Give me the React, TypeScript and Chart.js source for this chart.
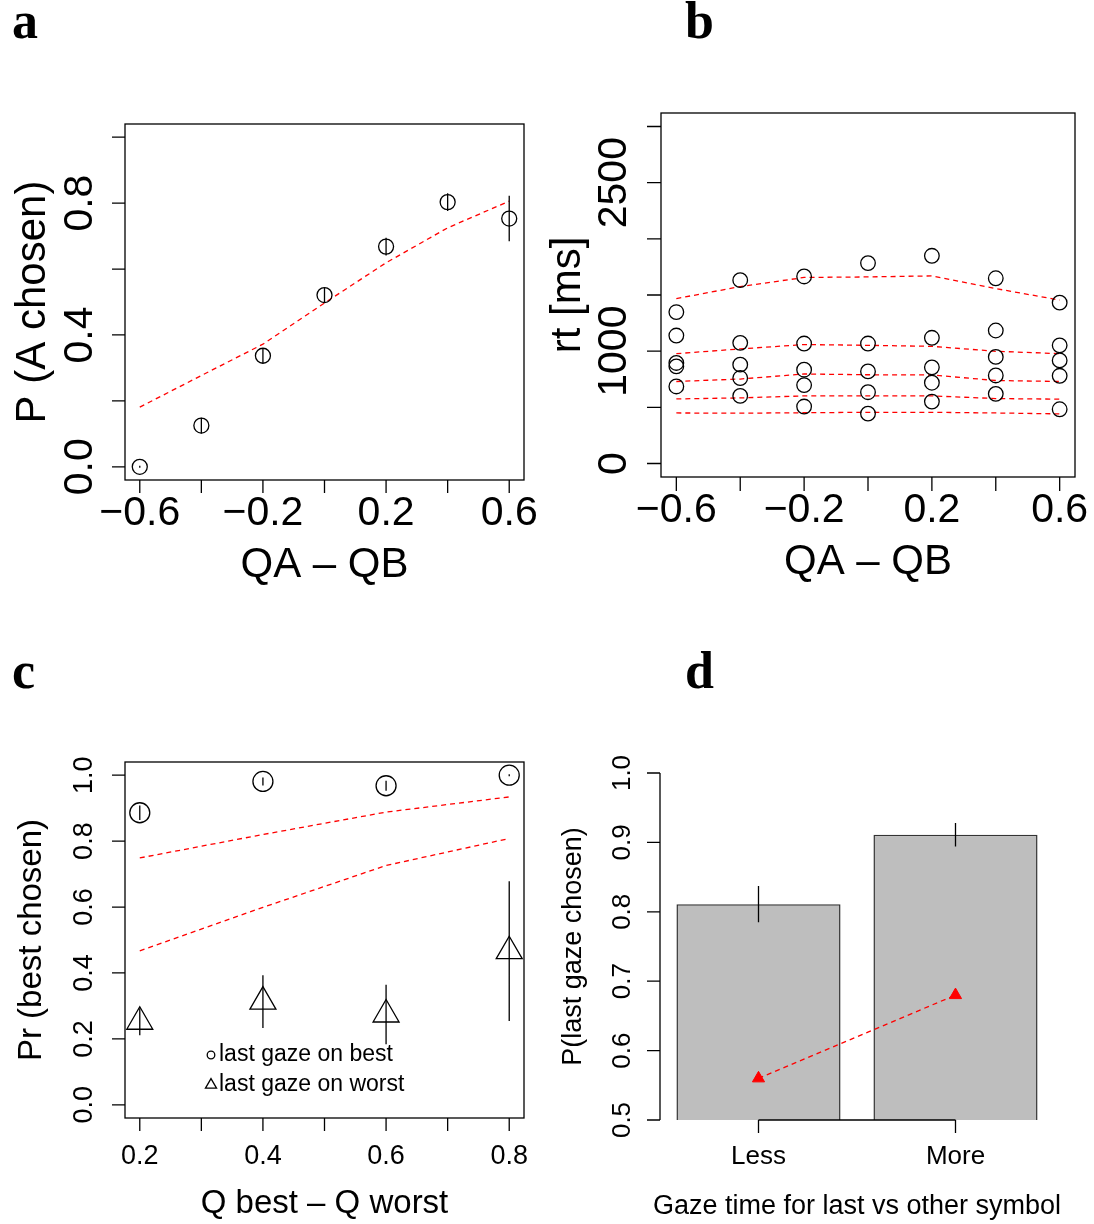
import React, { useEffect, useRef } from "react";
import { Chart, registerables } from "chart.js";

Chart.register(...registerables);

const PAGE_W = 1094;
const PAGE_H = 1224;
const SANS = "'Liberation Sans', Arial, Helvetica, sans-serif";
const SERIF = "'Liberation Serif', 'Times New Roman', serif";
const RED = "#FF0000";
const LW = 1.3;

// ---------- Panel a : P(A chosen) vs QA - QB ----------
const qDiff = [-0.6, -0.4, -0.2, 0, 0.2, 0.4, 0.6];
const pAObserved = [0.0, 0.125, 0.337, 0.521, 0.668, 0.803, 0.753];
const pAError = [0.003, 0.024, 0.023, 0.022, 0.027, 0.027, 0.069];
const pAModel = [0.181, 0.277, 0.372, 0.497, 0.619, 0.725, 0.806];
const aYTicks = [0, 0.2, 0.4, 0.6, 0.8, 1.0];
const aYLabels = ["0.0", "", "0.4", "", "0.8", ""];
const qDiffLabels = ["\u22120.6", "", "\u22120.2", "", "0.2", "", "0.6"];

// ---------- Panel b : RT quantiles vs QA - QB ----------
const rtObs1 = [686, 602, 507, 444, 551, 620, 483];
const rtObs2 = [865, 761, 698, 635, 719, 784, 781];
const rtObs3 = [895, 880, 835, 820, 856, 949, 918];
const rtObs4 = [1139, 1074, 1068, 1068, 1119, 1184, 1052];
const rtObs5 = [1348, 1632, 1665, 1784, 1849, 1649, 1432];
const rtModel1 = [450, 448, 452, 456, 456, 450, 442];
const rtModel2 = [575, 584, 602, 602, 602, 578, 573];
const rtModel3 = [730, 752, 797, 790, 788, 739, 730];
const rtModel4 = [978, 1020, 1059, 1052, 1043, 999, 978];
const rtModel5 = [1468, 1575, 1656, 1661, 1670, 1557, 1455];
const bYTicks = [0, 500, 1000, 1500, 2000, 2500, 3000];
const bYLabels = ["0", "", "1000", "", "", "2500", ""];

// ---------- Panel c : Pr(best chosen) vs Q best - Q worst ----------
const qGap = [0.2, 0.4, 0.6, 0.8];
const bestObserved = [0.886, 0.981, 0.968, 1.0];
const bestError = [0.022, 0.012, 0.015, 0.003];
const worstObserved = [0.252, 0.313, 0.274, 0.466];
const worstError = [0.041, 0.08, 0.09, 0.212];
const bestModel = [0.749, 0.82, 0.888, 0.934];
const worstModel = [0.467, 0.599, 0.726, 0.808];
const cXTicks = [0.2, 0.3, 0.4, 0.5, 0.6, 0.7, 0.8];
const cXLabels = ["0.2", "", "0.4", "", "0.6", "", "0.8"];
const cYTicks = [0, 0.2, 0.4, 0.6, 0.8, 1.0];
const cYLabels = ["0.0", "0.2", "0.4", "0.6", "0.8", "1.0"];
const cLegend = ["last gaze on best", "last gaze on worst"];

// ---------- Panel d : P(last gaze chosen) bars ----------
const gazeGroups = ["Less", "More"];
const lastChosen = [0.811, 0.911];
const lastChosenError = [0.026, 0.017];
const lastChosenModel = [0.56, 0.68];
const dYTicks = [0.5, 0.6, 0.7, 0.8, 0.9, 1.0];
const dYLabels = ["0.5", "0.6", "0.7", "0.8", "0.9", "1.0"];

type ErrSpec = { x: number[]; y: number[]; e: number[] };
type Spec = {
  id: string;
  box: boolean;
  axisLines: boolean;
  xTicks: number[];
  xLabels: string[];
  yTicks: number[];
  yLabels: string[];
  tickLen: number;
  tickFont: string;
  xLabelY: number;
  yLabelX: number;
  xTitle: string;
  xTitleY: number;
  yTitle: string;
  yTitleX: number;
  titleFont: string;
  letter: string;
  letterX: number;
  letterY: number;
  errs: ErrSpec[];
  extra?: (chart: any) => void;
};

function rotText(ctx: CanvasRenderingContext2D, t: string, x: number, y: number) {
  ctx.save();
  ctx.translate(x, y);
  ctx.rotate(-Math.PI / 2);
  ctx.fillText(t, 0, 0);
  ctx.restore();
}

function makePlugin(s: Spec) {
  return {
    id: "rstyle" + s.id,
    afterDatasetsDraw(chart: any) {
      const ctx = chart.ctx as CanvasRenderingContext2D;
      const xs = chart.scales.x;
      const ys = chart.scales.y;
      ctx.save();
      ctx.strokeStyle = "#000";
      ctx.lineWidth = LW;
      ctx.beginPath();
      s.errs.forEach((es) => {
        es.x.forEach((xv, i) => {
          const px = xs.getPixelForValue(xv);
          ctx.moveTo(px, ys.getPixelForValue(es.y[i] - es.e[i]));
          ctx.lineTo(px, ys.getPixelForValue(es.y[i] + es.e[i]));
        });
      });
      ctx.stroke();
      ctx.restore();
    },
    afterDraw(chart: any) {
      const ctx = chart.ctx as CanvasRenderingContext2D;
      const { left, right, top, bottom } = chart.chartArea;
      const xs = chart.scales.x;
      const ys = chart.scales.y;
      ctx.save();
      ctx.strokeStyle = "#000";
      ctx.fillStyle = "#000";
      ctx.lineWidth = LW;
      if (s.box) ctx.strokeRect(left, top, right - left, bottom - top);
      const yp = s.yTicks.map((v) => ys.getPixelForValue(v));
      const xp = s.xTicks.map((v) => xs.getPixelForValue(v));
      ctx.beginPath();
      if (s.axisLines) {
        ctx.moveTo(left, yp[0]);
        ctx.lineTo(left, yp[yp.length - 1]);
        ctx.moveTo(xp[0], bottom);
        ctx.lineTo(xp[xp.length - 1], bottom);
      }
      yp.forEach((p) => {
        ctx.moveTo(left, p);
        ctx.lineTo(left - s.tickLen, p);
      });
      xp.forEach((p) => {
        ctx.moveTo(p, bottom);
        ctx.lineTo(p, bottom + s.tickLen);
      });
      ctx.stroke();
      ctx.font = s.tickFont;
      ctx.textAlign = "center";
      ctx.textBaseline = "middle";
      s.xLabels.forEach((t, i) => {
        if (t) ctx.fillText(t, xp[i], s.xLabelY);
      });
      s.yLabels.forEach((t, i) => {
        if (t) rotText(ctx, t, s.yLabelX, yp[i]);
      });
      ctx.font = s.titleFont;
      ctx.fillText(s.xTitle, (left + right) / 2, s.xTitleY);
      rotText(ctx, s.yTitle, s.yTitleX, (top + bottom) / 2);
      ctx.font = "bold 52px " + SERIF;
      ctx.textAlign = "left";
      ctx.textBaseline = "alphabetic";
      ctx.fillText(s.letter, s.letterX, s.letterY);
      if (s.extra) s.extra(chart);
      ctx.restore();
    },
  };
}

function padFor(L: number, T: number, R: number, B: number) {
  return { left: L, top: T, right: PAGE_W - R, bottom: PAGE_H - B };
}

const baseOptions = (pad: any, scales: any) => ({
  responsive: false,
  animation: false as const,
  events: [] as any[],
  layout: { padding: pad },
  plugins: { legend: { display: false }, tooltip: { enabled: false } },
  scales,
});

function pts(xs: number[], ys: number[]) {
  return xs.map((x, i) => ({ x, y: ys[i] }));
}

function modelLine(data: any[]) {
  return {
    type: "line",
    data,
    showLine: true,
    borderColor: RED,
    borderWidth: LW,
    borderDash: [5, 4],
    pointRadius: 0,
    tension: 0,
    fill: false,
  };
}

function openPoints(data: any[], style: string, r: number) {
  return {
    type: "scatter",
    data,
    showLine: false,
    pointStyle: style,
    pointRadius: r,
    pointBorderColor: "#000",
    pointBackgroundColor: "rgba(0,0,0,0)",
    pointBorderWidth: LW,
  };
}

export default function App() {
  const ra = useRef<HTMLCanvasElement>(null);
  const rb = useRef<HTMLCanvasElement>(null);
  const rc = useRef<HTMLCanvasElement>(null);
  const rd = useRef<HTMLCanvasElement>(null);

  useEffect(() => {
    const charts: Chart[] = [];
    const bigTick = "41px " + SANS;
    const bigTitle = "42px " + SANS;

    // Panel a
    charts.push(
      new Chart(ra.current as HTMLCanvasElement, {
        type: "scatter",
        data: {
          datasets: [
            openPoints(pts(qDiff, pAObserved), "circle", 7.5) as any,
            modelLine(pts(qDiff, pAModel)) as any,
          ],
        },
        options: baseOptions(padFor(125, 124, 524, 480), {
          x: { type: "linear", min: -0.648, max: 0.648, display: false },
          y: { type: "linear", min: -0.04, max: 1.04, display: false },
        }) as any,
        plugins: [
          makePlugin({
            id: "a",
            box: true,
            axisLines: false,
            xTicks: qDiff,
            xLabels: qDiffLabels,
            yTicks: aYTicks,
            yLabels: aYLabels,
            tickLen: 13,
            tickFont: bigTick,
            xLabelY: 514,
            yLabelX: 81,
            xTitle: "QA \u2013 QB",
            xTitleY: 565,
            yTitle: "P (A chosen)",
            yTitleX: 33,
            titleFont: bigTitle,
            letter: "a",
            letterX: 12,
            letterY: 38,
            errs: [{ x: qDiff, y: pAObserved, e: pAError }],
          }),
        ],
      })
    );

    // Panel b
    const rtObs = [rtObs1, rtObs2, rtObs3, rtObs4, rtObs5];
    const rtModels = [rtModel1, rtModel2, rtModel3, rtModel4, rtModel5];
    charts.push(
      new Chart(rb.current as HTMLCanvasElement, {
        type: "scatter",
        data: {
          datasets: [
            openPoints(
              rtObs.flatMap((arr) => pts(qDiff, arr)),
              "circle",
              7.3
            ) as any,
            ...rtModels.map((m) => modelLine(pts(qDiff, m)) as any),
          ],
        },
        options: baseOptions(padFor(661, 113, 1075, 477), {
          x: { type: "linear", min: -0.648, max: 0.648, display: false },
          y: { type: "linear", min: -120, max: 3120, display: false },
        }) as any,
        plugins: [
          makePlugin({
            id: "b",
            box: true,
            axisLines: false,
            xTicks: qDiff,
            xLabels: qDiffLabels,
            yTicks: bYTicks,
            yLabels: bYLabels,
            tickLen: 14,
            tickFont: bigTick,
            xLabelY: 511,
            yLabelX: 615,
            xTitle: "QA \u2013 QB",
            xTitleY: 562,
            yTitle: "rt [ms]",
            yTitleX: 568,
            titleFont: bigTitle,
            letter: "b",
            letterX: 685,
            letterY: 38,
            errs: [],
          }),
        ],
      })
    );

    // Panel c
    charts.push(
      new Chart(rc.current as HTMLCanvasElement, {
        type: "scatter",
        data: {
          datasets: [
            openPoints(pts(qGap, bestObserved), "circle", 10) as any,
            openPoints(pts(qGap, worstObserved), "triangle", 15) as any,
            modelLine(pts(qGap, bestModel)) as any,
            modelLine(pts(qGap, worstModel)) as any,
          ],
        },
        options: baseOptions(padFor(125, 762, 524, 1118), {
          x: { type: "linear", min: 0.176, max: 0.824, display: false },
          y: { type: "linear", min: -0.04, max: 1.04, display: false },
        }) as any,
        plugins: [
          makePlugin({
            id: "c",
            box: true,
            axisLines: false,
            xTicks: cXTicks,
            xLabels: cXLabels,
            yTicks: cYTicks,
            yLabels: cYLabels,
            tickLen: 13,
            tickFont: "27px " + SANS,
            xLabelY: 1157,
            yLabelX: 85,
            xTitle: "Q best \u2013 Q worst",
            xTitleY: 1204,
            yTitle: "Pr (best chosen)",
            yTitleX: 32,
            titleFont: "33px " + SANS,
            letter: "c",
            letterX: 12,
            letterY: 688,
            errs: [
              { x: qGap, y: bestObserved, e: bestError },
              { x: qGap, y: worstObserved, e: worstError },
            ],
            extra: (chart: any) => {
              const ctx = chart.ctx as CanvasRenderingContext2D;
              ctx.lineWidth = LW;
              ctx.strokeStyle = "#000";
              const sx = 211;
              const y1 = 1055;
              const y2 = 1085;
              ctx.beginPath();
              ctx.arc(sx, y1, 3.8, 0, Math.PI * 2);
              ctx.stroke();
              const r = 6.4;
              ctx.beginPath();
              ctx.moveTo(sx, y2 - r);
              ctx.lineTo(sx + (r * Math.sqrt(3)) / 2, y2 + r / 2);
              ctx.lineTo(sx - (r * Math.sqrt(3)) / 2, y2 + r / 2);
              ctx.closePath();
              ctx.stroke();
              ctx.font = "23px " + SANS;
              ctx.textAlign = "left";
              ctx.textBaseline = "middle";
              ctx.fillText(cLegend[0], 219, y1);
              ctx.fillText(cLegend[1], 219, y2);
            },
          }),
        ],
      })
    );

    // Panel d
    charts.push(
      new Chart(rd.current as HTMLCanvasElement, {
        type: "bar",
        data: {
          labels: gazeGroups,
          datasets: [
            {
              type: "line",
              data: lastChosenModel,
              order: 1,
              borderColor: RED,
              borderWidth: LW,
              borderDash: [5, 4],
              pointStyle: "triangle",
              pointRadius: 7,
              pointBackgroundColor: RED,
              pointBorderColor: RED,
              pointBorderWidth: 1,
              tension: 0,
              fill: false,
            } as any,
            {
              type: "bar",
              data: lastChosen,
              order: 2,
              backgroundColor: "#BEBEBE",
              borderColor: "#333333",
              borderWidth: 1.5,
              borderSkipped: "start",
              barPercentage: 0.833,
              categoryPercentage: 1.0,
            } as any,
          ],
        },
        options: baseOptions(padFor(660, 773, 1054, 1120), {
          x: { type: "category", offset: true, display: false },
          y: { type: "linear", min: 0.5, max: 1.0, display: false },
        }) as any,
        plugins: [
          makePlugin({
            id: "d",
            box: false,
            axisLines: true,
            xTicks: [0, 1],
            xLabels: gazeGroups,
            yTicks: dYTicks,
            yLabels: dYLabels,
            tickLen: 13,
            tickFont: "26px " + SANS,
            xLabelY: 1157,
            yLabelX: 623,
            xTitle: "Gaze time for last vs other symbol",
            xTitleY: 1207,
            yTitle: "P(last gaze chosen)",
            yTitleX: 574,
            titleFont: "27px " + SANS,
            letter: "d",
            letterX: 685,
            letterY: 688,
            errs: [{ x: [0, 1], y: lastChosen, e: lastChosenError }],
          }),
        ],
      })
    );

    return () => charts.forEach((c) => c.destroy());
  }, []);

  const cs: React.CSSProperties = {
    position: "absolute",
    left: 0,
    top: 0,
    width: PAGE_W,
    height: PAGE_H,
  };
  return (
    <div
      style={{
        position: "absolute",
        left: 0,
        top: 0,
        width: PAGE_W,
        height: PAGE_H,
        background: "#fff",
        overflow: "hidden",
      }}
    >
      <canvas ref={ra} width={PAGE_W} height={PAGE_H} style={cs} />
      <canvas ref={rb} width={PAGE_W} height={PAGE_H} style={cs} />
      <canvas ref={rc} width={PAGE_W} height={PAGE_H} style={cs} />
      <canvas ref={rd} width={PAGE_W} height={PAGE_H} style={cs} />
    </div>
  );
}
